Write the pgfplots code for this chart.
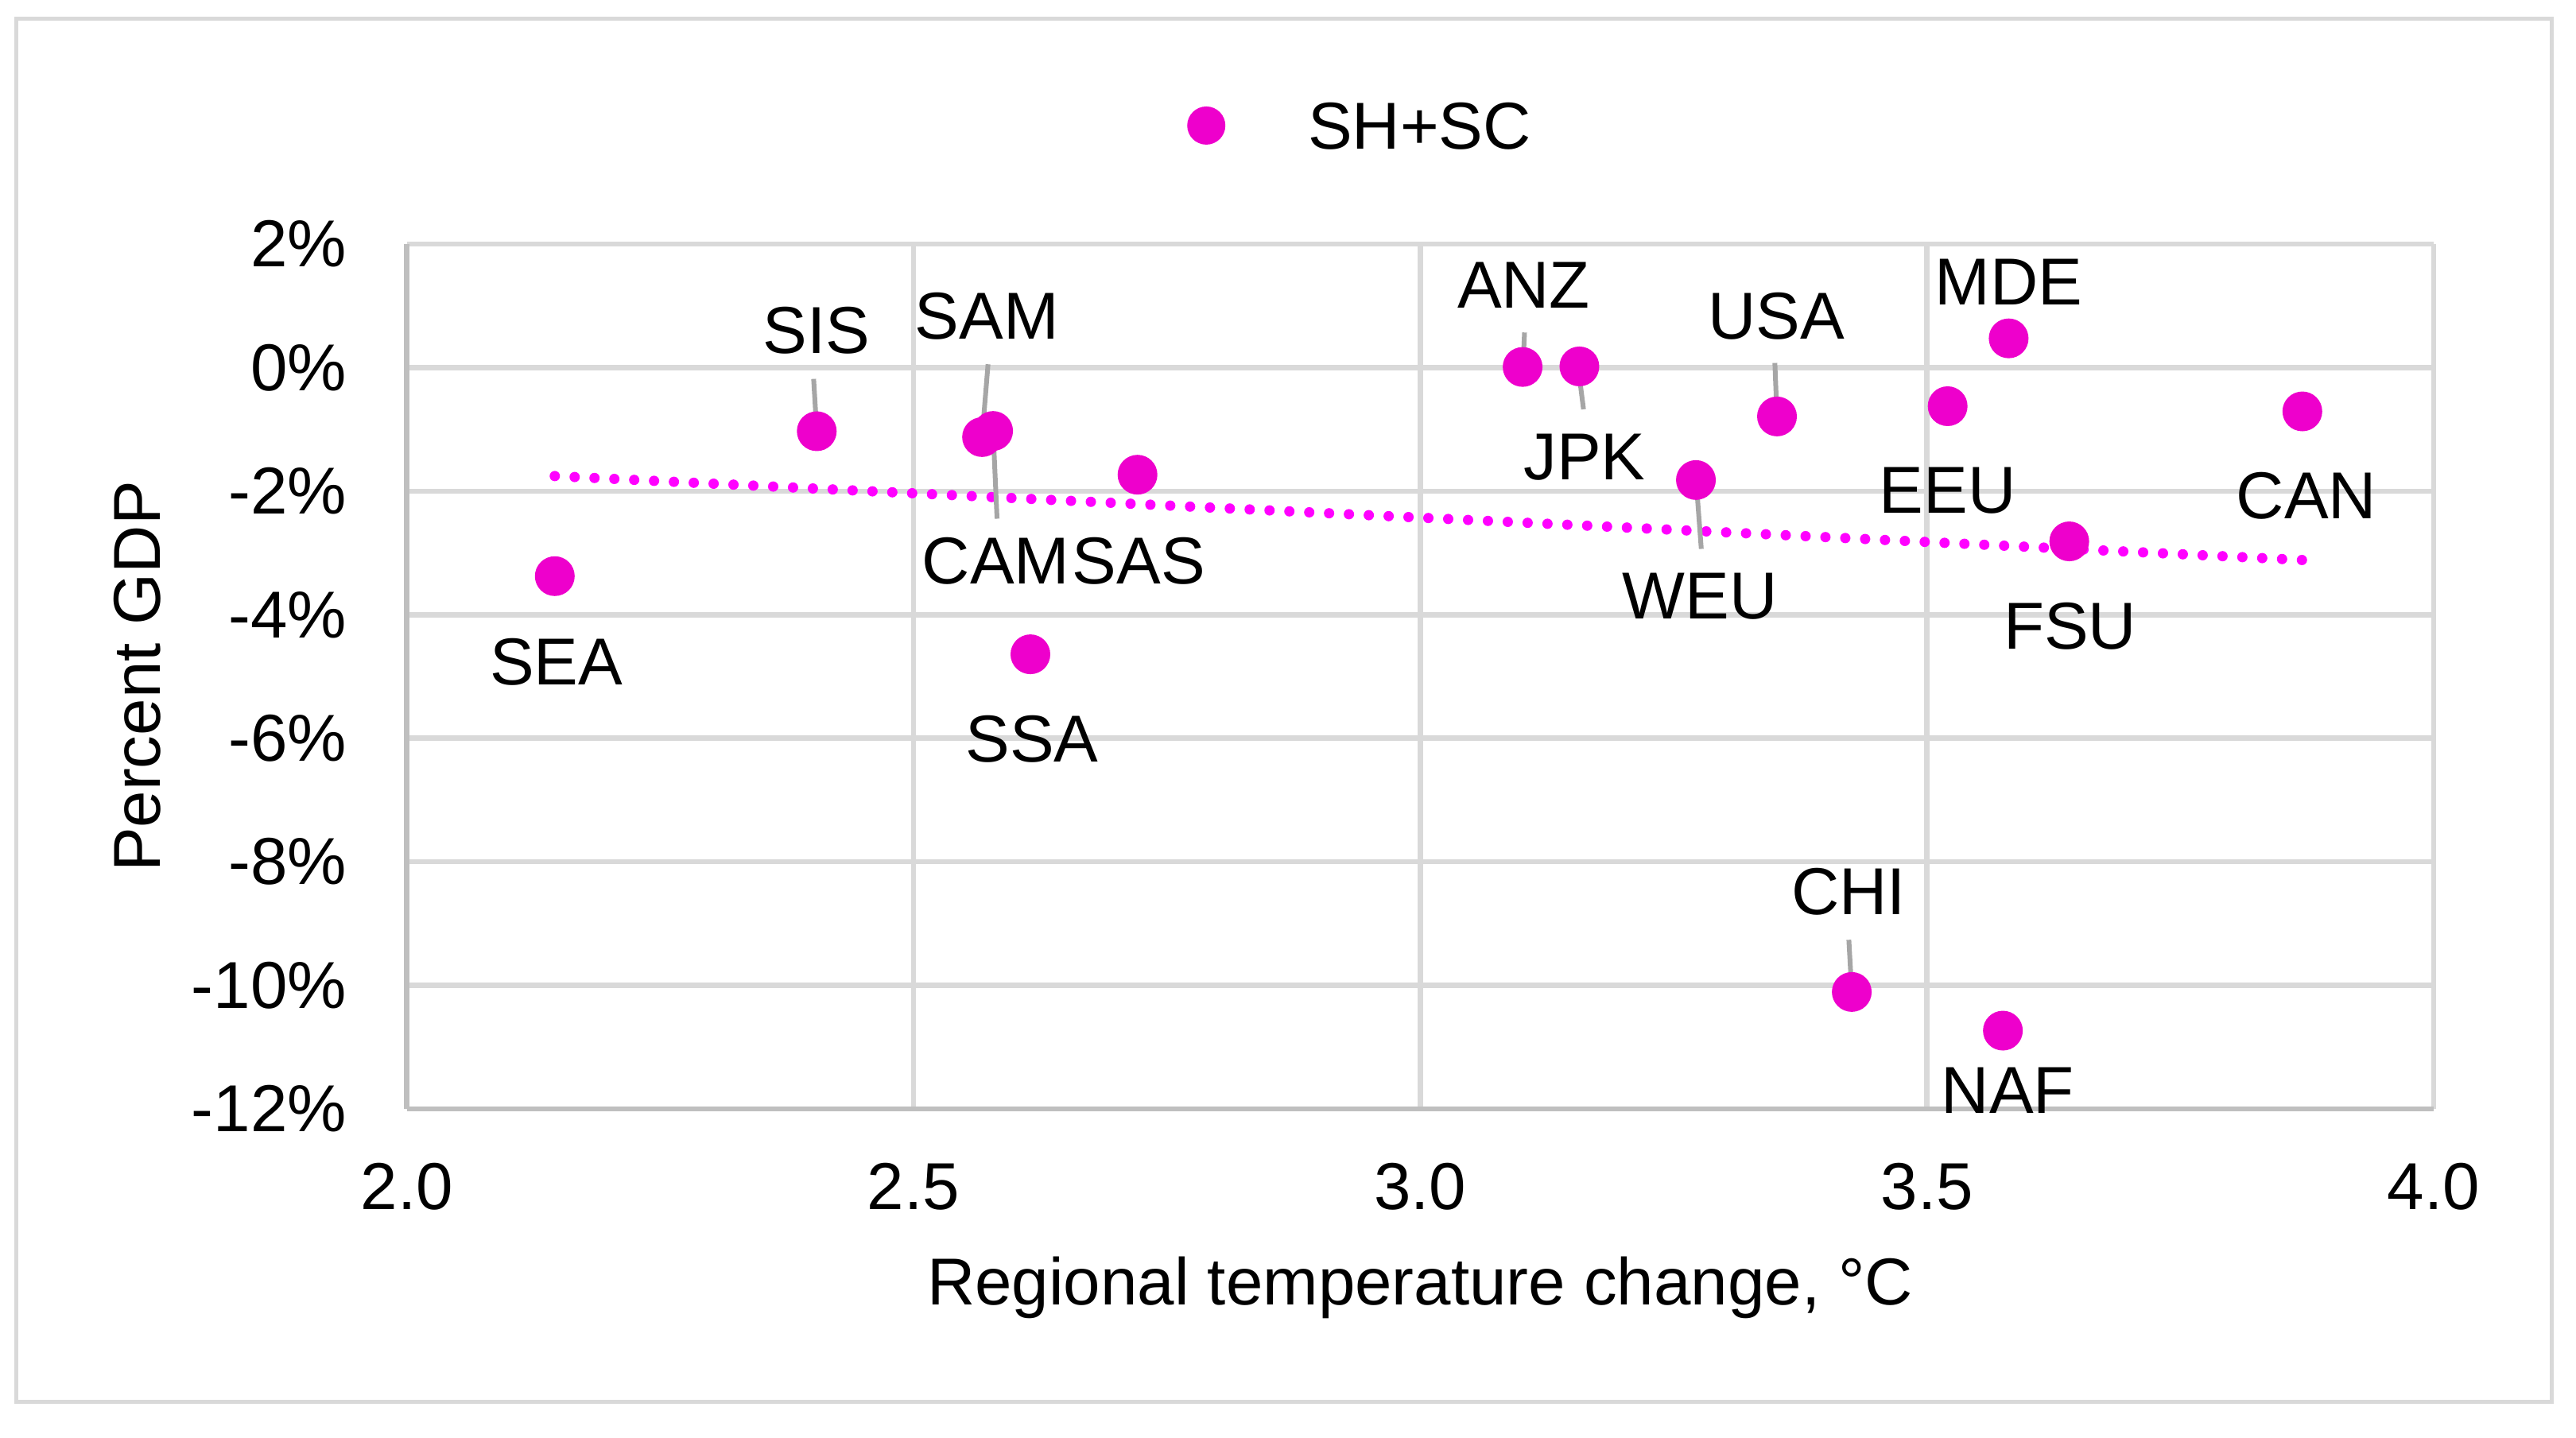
\documentclass[border=0pt]{standalone}
\usepackage{fontspec}
\setmainfont{Liberation Sans}
\usepackage{pgfplots}
\usepackage{pgfplotstable}
\pgfplotsset{compat=1.18}
\definecolor{mk}{HTML}{EE00CC}
\definecolor{tr}{HTML}{FF00FF}
\definecolor{grd}{HTML}{D9D9D9}
\definecolor{axl}{HTML}{BFBFBF}
\definecolor{ldr}{HTML}{A6A6A6}
\newcommand\cf{\fontsize{16.7pt}{20pt}\selectfont}

\pgfplotstableread{
x y
2.146 -3.376
2.4045 -1.030
2.5676 -1.125
2.5785 -1.026
2.721 -1.734
2.6153 -4.641
3.101 0.010
3.157 0.019
3.272 -1.820
3.352 -0.791
3.5204 -0.625
3.5806 0.473
3.6404 -2.813
3.8704 -0.709
3.4258 -10.107
3.5749 -10.733
}\pts

\begin{document}
\begin{tikzpicture}[font=\cf]
\path[use as bounding box] (0,0) rectangle (648pt,361.6pt);
\draw[grd, line width=1.07pt] (4.08pt,8.93pt) rectangle (641.9pt,356.94pt);
\begin{axis}[
  at={(102.34pt,82.6pt)}, anchor=south west,
  width=509.86pt, height=217.6pt, scale only axis,
  xmin=2, xmax=4, ymin=-12, ymax=2,
  xtick={2,2.5,3,3.5,4}, xticklabels={2.0,2.5,3.0,3.5,4.0},
  ytick={-12,-10,-8,-6,-4,-2,0,2},
  yticklabels={-12\%,-10\%,-8\%,-6\%,-4\%,-2\%,0\%,2\%},
  grid=major, major grid style={grd, line width=1.3pt},
  major tick length=0pt,
  axis x line*=bottom, axis y line*=left,
  axis line style={axl, line width=1.3pt},
  xticklabel style={anchor=base, yshift=-25.3pt},
  yticklabel style={anchor=east, inner sep=0pt, xshift=-15pt},
  xlabel={Regional temperature change, °C},
  ylabel={Percent GDP},
  every axis x label/.style={at={(axis description cs:0.5,-0.2266)}, anchor=base},
  every axis y label/.style={at={(axis description cs:-0.1328,0.5)}, rotate=90, anchor=center},
  clip=false,
  legend style={at={(axis description cs:0.4699,1.137)}, anchor=center, draw=none, fill=none,
    inner sep=0pt, outer sep=0pt, nodes={inner sep=0pt, outer sep=0pt, text depth=0pt}},
  legend image code/.code={\fill[mk, draw=none] (4.8pt,0pt) circle[radius=4.8pt]; \path[draw=none, fill=none] (0pt,0pt) rectangle (30.4pt,0.1pt);},
]
\addplot[only marks, mark=*, mark size=4.8pt, color=mk, mark options={fill=mk, draw=none}] table {\pts};
\addlegendentry{SH+SC}
\addplot[tr, line width=2.6pt, dash pattern=on 0pt off 5pt, line cap=round, forget plot]
  coordinates {(2.146,-1.756) (3.8704,-3.115)};
% leader lines
\addplot[ldr, line width=1.2pt, forget plot] coordinates {(2.4014,-0.183) (2.4045,-1.030)};
\addplot[ldr, line width=1.2pt, forget plot] coordinates {(2.5735,0.054) (2.5676,-1.125)};
\addplot[ldr, line width=1.2pt, forget plot] coordinates {(2.5785,-1.026) (2.5824,-2.446)};
\addplot[ldr, line width=1.2pt, forget plot] coordinates {(3.1029,0.568) (3.1013,0.010)};
\addplot[ldr, line width=1.2pt, forget plot] coordinates {(3.1557,0.019) (3.1611,-0.675)};
\addplot[ldr, line width=1.2pt, forget plot] coordinates {(3.3499,0.075) (3.3520,-0.791)};
\addplot[ldr, line width=1.2pt, forget plot] coordinates {(3.2722,-1.820) (3.2773,-2.935)};
\addplot[ldr, line width=1.2pt, forget plot] coordinates {(3.4229,-9.263) (3.4258,-10.107)};
% labels
\begin{scope}[every node/.style={inner sep=0pt, anchor=center}]
\node at (axis cs:2.1475,-4.759) {SEA};
\node at (axis cs:2.404,0.601) {SIS};
\node at (axis cs:2.5724,0.826) {SAM};
\node at (axis cs:2.5812,-3.132) {CAM};
\node at (axis cs:2.7224,-3.132) {SAS};
\node at (axis cs:2.6169,-6.015) {SSA};
\node at (axis cs:3.1021,1.34) {ANZ};
\node at (axis cs:3.1622,-1.453) {JPK};
\node at (axis cs:3.3516,0.836) {USA};
\node at (axis cs:3.2758,-3.707) {WEU};
\node at (axis cs:3.5806,1.381) {MDE};
\node at (axis cs:3.5203,-1.996) {EEU};
\node at (axis cs:3.8745,-2.073) {CAN};
\node at (axis cs:3.6411,-4.188) {FSU};
\node at (axis cs:3.4226,-8.478) {CHI};
\node at (axis cs:3.5798,-11.704) {NAF};
\end{scope}
\end{axis}
\end{tikzpicture}
\end{document}
